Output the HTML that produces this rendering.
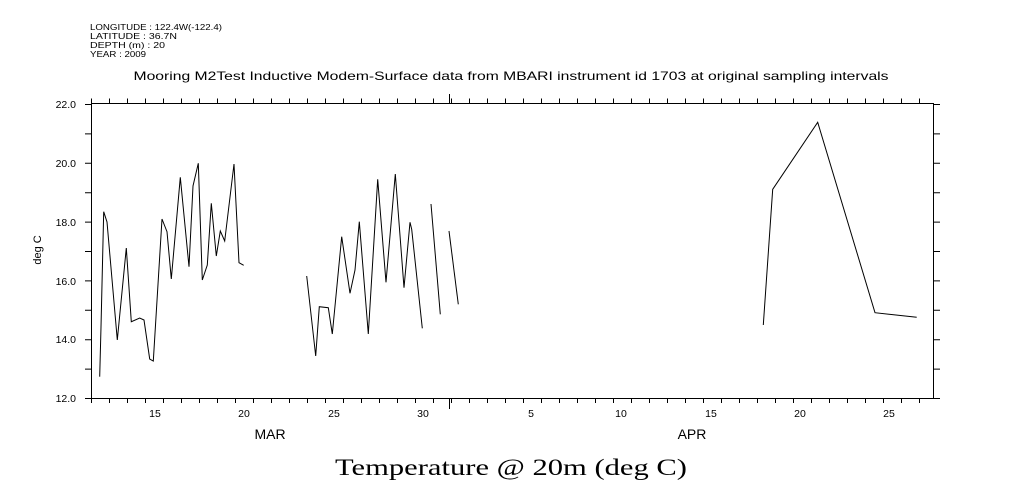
<!DOCTYPE html>
<html><head><meta charset="utf-8"><style>
html,body{margin:0;padding:0;background:#fff}
svg{display:block}
text{font-family:"Liberation Sans",sans-serif;fill:#000}
</style></head><body>
<svg width="1009" height="504" viewBox="0 0 1009 504" xmlns="http://www.w3.org/2000/svg">
<g font-size="8.5">
<text x="90" y="30" textLength="132" lengthAdjust="spacingAndGlyphs">LONGITUDE : 122.4W(-122.4)</text>
<text x="90" y="39" textLength="87" lengthAdjust="spacingAndGlyphs">LATITUDE : 36.7N</text>
<text x="90" y="48" textLength="75" lengthAdjust="spacingAndGlyphs">DEPTH (m) : 20</text>
<text x="90" y="57" textLength="56" lengthAdjust="spacingAndGlyphs">YEAR : 2009</text>
</g>
<text x="511" y="80" font-size="12" text-anchor="middle" textLength="755" lengthAdjust="spacingAndGlyphs">Mooring M2Test Inductive Modem-Surface data from MBARI instrument id 1703 at original sampling intervals</text>
<g stroke="#000" fill="none" stroke-width="1">
<rect x="91.5" y="103.5" width="842" height="295"/>
<line x1="91" y1="400.5" x2="934" y2="400.5" stroke-width="5" stroke-dasharray="1 17"/>
<line x1="91" y1="101" x2="934" y2="101" stroke-width="5" stroke-dasharray="1 17"/>
<line x1="449.5" y1="399" x2="449.5" y2="409"/>
<line x1="449.5" y1="94" x2="449.5" y2="103"/>
<line x1="88" y1="104" x2="88" y2="399" stroke-width="6" stroke-dasharray="1 28.4"/>
<line x1="937" y1="104" x2="937" y2="399" stroke-width="6" stroke-dasharray="1 28.4"/>
<polyline points="99.7,376.7 101,327 103.7,211.7 107,222 117.3,340 126.3,248 131.3,321.7 139.7,318 144,320 149.7,359 153.3,361 162,219 167,231.7 171.3,279 180.3,177.3 189,266.7 193,186 198.3,163.3 202.3,280 207.3,265 211.3,203.3 216.3,256 220.3,231 224.7,241 234,164 239,262.7 243.7,265.3"/>
<polyline points="306.7,276 315.7,356 319.3,306.7 328.3,307.7 332.3,334 341.7,236.7 350,293.3 355,270 359.3,221.7 368.3,334 377.7,179.3 386,282.3 395.3,174 404,287.7 410,222.3 411.7,229.3 422.3,328.3"/>
<polyline points="431,204 440.3,314.3"/>
<polyline points="449,231 458.3,304.3"/>
<polyline points="763.3,325 772.7,189.3 817.7,122.3 875,312.7 916.7,317.3"/>
</g>
<g font-size="10.5" text-anchor="end">
<text x="76" y="108">22.0</text>
<text x="76" y="167">20.0</text>
<text x="76" y="226">18.0</text>
<text x="76" y="285">16.0</text>
<text x="76" y="343">14.0</text>
<text x="76" y="402">12.0</text>
</g>
<text transform="translate(41,250) rotate(-90)" font-size="11" text-anchor="middle">deg C</text>
<g font-size="10.5" text-anchor="middle">
<text x="155" y="417">15</text>
<text x="244" y="417">20</text>
<text x="334" y="417">25</text>
<text x="423" y="417">30</text>
<text x="531" y="417">5</text>
<text x="621" y="417">10</text>
<text x="711" y="417">15</text>
<text x="800" y="417">20</text>
<text x="889" y="417">25</text>
</g>
<g font-size="14" text-anchor="middle">
<text x="270" y="439">MAR</text>
<text x="692" y="439">APR</text>
</g>
<text x="511" y="475" font-size="23" text-anchor="middle" style="font-family:'Liberation Serif',serif" textLength="352" lengthAdjust="spacingAndGlyphs">Temperature @ 20m (deg C)</text>
</svg>
</body></html>
